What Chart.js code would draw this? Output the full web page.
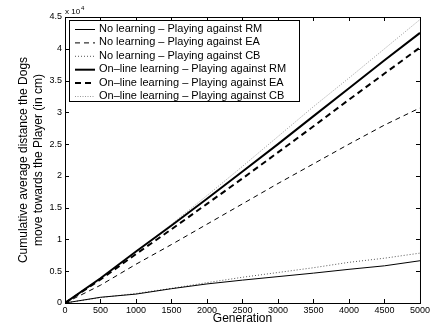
<!DOCTYPE html>
<html>
<head>
<meta charset="utf-8">
<script src="https://cdn.jsdelivr.net/npm/chart.js@4"></script>
<style>
  html, body { margin: 0; padding: 0; background: #fff; }
  #box { width: 432px; height: 326px; }
</style>
</head>
<body>
<div id="box"><canvas id="grafico"></canvas></div>
<script>
// Dados (geração -> distância acumulada em cm)
const geracoes = [0, 500, 1000, 1500, 2000, 2500, 3000, 3500, 4000, 4500, 5000];
const semRM = [0, 900, 1400, 2250, 3000, 3600, 4150, 4700, 5300, 5850, 6650];
const semEA = [0, 2800, 6100, 9200, 12400, 15600, 18800, 21900, 25000, 28000, 30700];
const semCB = [0, 850, 1500, 2300, 3200, 4050, 4800, 5550, 6400, 7050, 7850];
const onRM = [0, 3900, 8100, 12200, 16400, 20700, 25000, 29400, 33800, 38200, 42500];
const onEA = [0, 3700, 7700, 11600, 15600, 19600, 23700, 27800, 32000, 36100, 40200];
const onCB = [0, 3800, 8100, 12400, 16900, 21500, 26200, 30900, 35400, 40000, 44600];
const rotulos = [
  'No learning \u2013 Playing against RM',
  'No learning \u2013 Playing against EA',
  'No learning \u2013 Playing against CB',
  'On\u2013line learning \u2013 Playing against RM',
  'On\u2013line learning \u2013 Playing against EA',
  'On\u2013line learning \u2013 Playing against CB'
];

const FONTE = 'Liberation Sans, Arial, Helvetica, sans-serif';

function serie(valores) {
  return geracoes.map((g, i) => ({ x: g, y: valores[i] }));
}

const estilos = [
  { borderColor: '#000', borderWidth: 1, borderDash: [] },
  { borderColor: '#000', borderWidth: 1, borderDash: [5, 4] },
  { borderColor: '#555', borderWidth: 1, borderDash: [1, 2] },
  { borderColor: '#000', borderWidth: 2, borderDash: [] },
  { borderColor: '#000', borderWidth: 2, borderDash: [6, 4] },
  { borderColor: '#999', borderWidth: 1, borderDash: [1, 1.5] }
];

const datasets = [semRM, semEA, semCB, onRM, onEA, onCB].map((v, i) => Object.assign({
  label: rotulos[i],
  data: serie(v),
  pointRadius: 0,
  tension: 0,
  fill: false
}, estilos[i]));

// Moldura, marcas internas, expoente e legenda
const molduraPlugin = {
  id: 'moldura',
  afterDraw(chart) {
    const ctx = chart.ctx;
    const a = chart.chartArea;
    const sx = chart.scales.x, sy = chart.scales.y;
    ctx.save();
    ctx.strokeStyle = '#000';
    ctx.lineWidth = 1;
    ctx.setLineDash([]);
    ctx.strokeRect(a.left + 0.5, a.top + 0.5, a.right - a.left, a.bottom - a.top);
    ctx.beginPath();
    sx.ticks.forEach((t, i) => {
      const px = Math.round(sx.getPixelForTick(i)) + 0.5;
      ctx.moveTo(px, a.bottom); ctx.lineTo(px, a.bottom - 4);
      ctx.moveTo(px, a.top); ctx.lineTo(px, a.top + 4);
    });
    sy.ticks.forEach((t, i) => {
      const py = Math.round(sy.getPixelForTick(i)) + 0.5;
      ctx.moveTo(a.left, py); ctx.lineTo(a.left + 4, py);
      ctx.moveTo(a.right, py); ctx.lineTo(a.right - 4, py);
    });
    ctx.stroke();

    // x 10^4
    ctx.fillStyle = '#000';
    ctx.font = '8px ' + FONTE;
    ctx.textBaseline = 'alphabetic';
    ctx.textAlign = 'left';
    ctx.fillText('x 10', a.left, a.top - 3);
    const w = ctx.measureText('x 10').width;
    ctx.font = '6px ' + FONTE;
    ctx.fillText('4', a.left + w + 1, a.top - 7);

    // legenda
    const lx = a.left + 4, ly = a.top + 3, lw = 230, lh = 81, linha = 13.4;
    ctx.fillStyle = '#fff';
    ctx.fillRect(lx, ly, lw, lh);
    ctx.lineWidth = 1;
    ctx.strokeStyle = '#000';
    ctx.strokeRect(lx + 0.5, ly + 0.5, lw, lh);
    ctx.font = '11px ' + FONTE;
    ctx.textBaseline = 'middle';
    chart.data.datasets.forEach((ds, i) => {
      const cy = ly + 9 + i * linha;
      ctx.beginPath();
      ctx.strokeStyle = ds.borderColor;
      ctx.lineWidth = ds.borderWidth;
      ctx.setLineDash(ds.borderDash);
      ctx.moveTo(lx + 6, cy + 0.5);
      ctx.lineTo(lx + 26, cy + 0.5);
      ctx.stroke();
      ctx.setLineDash([]);
      ctx.fillStyle = '#000';
      ctx.fillText(ds.label, lx + 30, cy);
    });
    ctx.restore();
  }
};

const ctx = document.getElementById('grafico').getContext('2d');
const grafico = new Chart(ctx, {
  type: 'line',
  data: { datasets: datasets },
  options: {
    responsive: true,
    maintainAspectRatio: false,
    animation: false,
    layout: { padding: { top: 17, right: 9, left: 0, bottom: 0 } },
    plugins: { legend: { display: false }, tooltip: { enabled: false } },
    scales: {
      x: {
        type: 'linear',
        min: 0, max: 5000,
        grid: { display: false, drawTicks: false, tickLength: 0 },
        border: { display: false },
        ticks: {
          stepSize: 500, color: '#000', font: { family: FONTE, size: 9 }, padding: 2,
          maxRotation: 0, autoSkip: false,
          callback: v => String(v)
        },
        title: { display: true, text: 'Generation', color: '#000', font: { family: FONTE, size: 12 }, padding: { top: 0, bottom: 0 } },
        afterFit(s) { s.height = 23; }
      },
      y: {
        min: 0, max: 45000,
        grid: { display: false, drawTicks: false, tickLength: 0 },
        border: { display: false },
        ticks: {
          stepSize: 5000, color: '#000', font: { family: FONTE, size: 9 }, padding: 3,
          callback: v => String(v / 10000)
        },
        title: {
          display: true,
          text: ['Cumulative average distance the Dogs', 'move towards the Player (in cm)'],
          color: '#000', font: { family: FONTE, size: 12, lineHeight: 1.25 }, padding: { top: 16, bottom: 0 }
        },
        afterFit(s) { s.width = 65; }
      }
    }
  },
  plugins: [molduraPlugin]
});
</script>
</body>
</html>
